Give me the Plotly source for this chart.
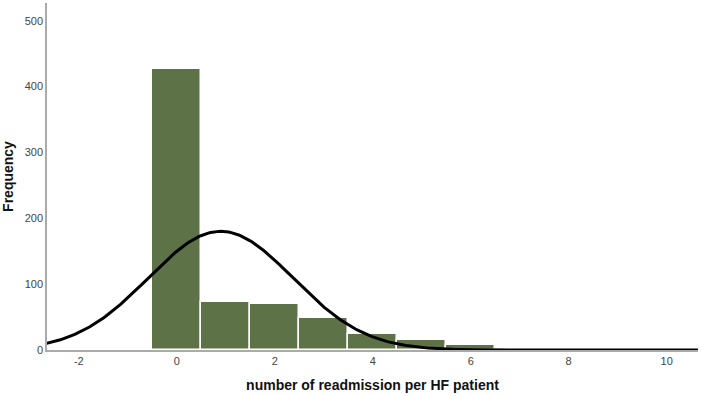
import numpy as np
import plotly.graph_objects as go

# Histogram data (readmissions per HF patient)
readmissions = [0, 1, 2, 3, 4, 5, 6, 7, 8]
frequency = [427, 73, 70, 48, 24, 15, 8, 2, 1]

x_ticks = [-2, 0, 2, 4, 6, 8, 10]
x_tick_labels = ["-2", "0", "2", "4", "6", "8", "10"]
y_ticks = [0, 100, 200, 300, 400, 500]

# Normal curve fitted to the data (as SPSS overlays it)
vals = np.array(readmissions, dtype=float)
f = np.array(frequency, dtype=float)
n = f.sum()
mean = (vals * f).sum() / n
sd = np.sqrt(((vals - mean) ** 2 * f).sum() / (n - 1))
xs = np.linspace(-2.7, 10.7, 400)
ys = n * 1.0 / (sd * np.sqrt(2 * np.pi)) * np.exp(-((xs - mean) ** 2) / (2 * sd ** 2))

fig = go.Figure()
fig.add_trace(go.Bar(
    x=readmissions, y=frequency, width=1.0,
    marker=dict(color="#5e7247", line=dict(color="white", width=1.5)),
    showlegend=False, hoverinfo="skip"))
fig.add_trace(go.Scatter(
    x=xs, y=ys, mode="lines", line=dict(color="black", width=3),
    showlegend=False, hoverinfo="skip"))

font = "Liberation Sans, Arial, sans-serif"
fig.update_layout(
    template="none",
    width=702, height=396,
    margin=dict(l=47, r=4, t=3, b=46),
    plot_bgcolor="white", paper_bgcolor="white",
    bargap=0,
    font=dict(family=font, size=11, color="#444444"),
    xaxis=dict(range=[-2.65, 10.64], tickvals=x_ticks, ticktext=x_tick_labels,
               showgrid=False, zeroline=False,
               showline=True, linecolor="#aaaaaa", linewidth=1.5, ticks="",
               tickfont=dict(size=11, color="#444444"),
               title=dict(text="<b>number of readmission per HF patient</b>",
                          font=dict(size=14, color="#111111"), standoff=14)),
    yaxis=dict(range=[0, 527], tickvals=y_ticks, showgrid=False, zeroline=False,
               showline=True, linecolor="#aaaaaa", linewidth=1.5, ticks="",
               tickfont=dict(size=11, color="#444444"),
               title=dict(text="<b>Frequency</b>", font=dict(size=14, color="#111111"),
                          standoff=8)),
)
fig.write_html("out.html", config={"displayModeBar": False},
               post_script="document.body.style.margin='0';")
